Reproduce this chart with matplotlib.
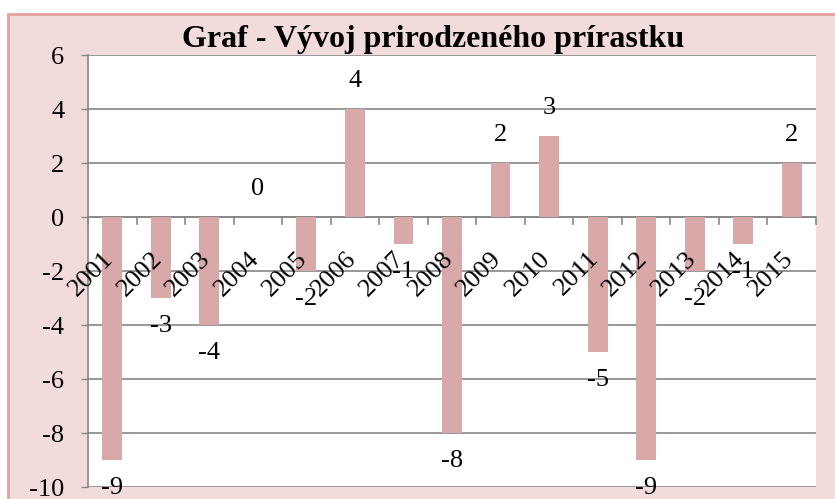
import matplotlib.pyplot as plt
import numpy as np
from matplotlib.patches import Rectangle

# Data
years = ["2001", "2002", "2003", "2004", "2005", "2006", "2007", "2008",
         "2009", "2010", "2011", "2012", "2013", "2014", "2015"]
values = [-9, -3, -4, 0, -2, 4, -1, -8, 2, 3, -5, -9, -2, -1, 2]
y_ticks = [-10, -8, -6, -4, -2, 0, 2, 4, 6]
title = "Graf - Vývoj prirodzeného prírastku"

plt.rcParams["font.family"] = ["Liberation Serif", "DejaVu Serif"]

W, H = 835, 499
fig = plt.figure(figsize=(W / 100, H / 100), dpi=100)
fig.patch.set_facecolor("white")

# pink chart area with border
fig.patches.append(Rectangle((8 / W, -0.01), 1.0, 1 - 14 / H + 0.01,
                             transform=fig.transFigure,
                             facecolor="#F2DCDB", edgecolor="#E3A09F", linewidth=2,
                             zorder=-5))

ax = fig.add_axes([88 / W, 12 / H, (816 - 88) / W, (487 - 55) / H])
ax.set_zorder(1)
ax.set_facecolor("white")

x = np.arange(len(years))
ax.bar(x, values, width=0.41, color="#D9A8A9", zorder=3)

ax.set_xlim(-0.5, len(years) - 0.5)
ax.set_ylim(-10, 6)
ax.set_yticks(y_ticks)
ax.set_yticklabels([str(v) for v in y_ticks], fontsize=19)
ax.tick_params(axis="y", length=5, width=1, color="#868686", pad=12)
ax.grid(axis="y", color="#868686", linewidth=1.2, zorder=1)
ax.set_xticks([])

for s in ["top", "right", "bottom"]:
    ax.spines[s].set_visible(False)
ax.spines["left"].set_color("#868686")
ax.spines["left"].set_linewidth(1.2)

# category axis at zero with boundary ticks
ax.axhline(0, color="#868686", linewidth=1.2, zorder=2)
for b in np.arange(-0.5, len(years), 1.0):
    ax.plot([b, b], [0, -0.25], color="#868686", linewidth=1.2, zorder=2,
            clip_on=False)

# rotated year labels
for i, yr in enumerate(years):
    ax.annotate(yr, xy=(i, 0), xytext=(4, -22), textcoords="offset points",
                rotation=45, ha="right", va="top", fontsize=19, zorder=4)

# data labels
for i, v in enumerate(values):
    off = -20 if v < 0 else 20
    ax.annotate(str(v), xy=(i, v), xytext=(0, off), textcoords="offset points",
                ha="center", va="center", fontsize=19, zorder=4,
                annotation_clip=False)

fig.text(433 / W, 1 - 39 / H, title, fontsize=23, fontweight="bold",
         ha="center", va="center")

fig.savefig("out.png", dpi=100)
